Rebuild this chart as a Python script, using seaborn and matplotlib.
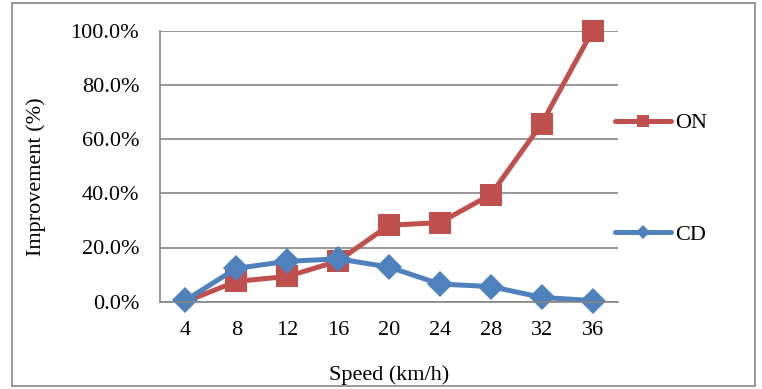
import pandas as pd
import seaborn as sns
import matplotlib.pyplot as plt
from matplotlib.patches import Rectangle
from matplotlib.ticker import PercentFormatter

# values
speeds = [4, 8, 12, 16, 20, 24, 28, 32, 36]
on_vals = [0.0, 7.5, 9.3, 15.0, 28.2, 29.2, 39.5, 65.7, 100.0]
cd_vals = [0.5, 12.3, 14.9, 15.8, 12.8, 6.5, 5.6, 1.6, 0.4]
series_names = ['ON', 'CD']

df = pd.DataFrame({
    'Speed': speeds * 2,
    'Improvement': on_vals + cd_vals,
    'Series': [series_names[0]] * len(speeds) + [series_names[1]] * len(speeds),
})

sns.set_style('white')
plt.rcParams['font.family'] = ['Liberation Serif', 'DejaVu Serif']
plt.rcParams['text.color'] = 'black'
plt.rcParams['axes.labelcolor'] = 'black'
fs = 16

fig = plt.figure(figsize=(7.62, 3.89), dpi=100)
ax = fig.add_axes([160 / 762, 1 - 301.7 / 389, (618 - 160) / 762, (301.7 - 30.7) / 389])

sns.lineplot(data=df, x='Speed', y='Improvement', hue='Series', style='Series',
             palette={'ON': '#C0504D', 'CD': '#4F81BD'},
             markers={'ON': 's', 'CD': 'D'}, dashes=False,
             linewidth=3.6, markeredgewidth=0, ax=ax, legend=False)
for line, ms in zip(ax.lines, [15.5, 13.5]):
    line.set_markersize(ms)
    line.set_clip_on(False)
# the first ON marker is hidden in the original
ax.lines[0].set_markevery(list(range(1, len(speeds))))

ax.set_xlim(2, 38)
ax.set_ylim(0, 100)
ax.set_yticks(range(0, 101, 20))
ax.yaxis.set_major_formatter(PercentFormatter(decimals=1))
ax.set_xticks(speeds)
ax.set_xticks(range(2, 39, 4), minor=True)
ax.tick_params(axis='x', which='major', length=0, pad=14, labelsize=fs, labelcolor='black')
ax.tick_params(axis='x', which='minor', length=5, color='#868686', width=1.2)
ax.tick_params(axis='y', length=5, color='#868686', width=1.2, pad=10, labelsize=fs, labelcolor='black')
ax.grid(axis='y', color='#868686', linewidth=1.2)
ax.set_axisbelow(True)
for side in ['top', 'right']:
    ax.spines[side].set_visible(False)
for side in ['left', 'bottom']:
    ax.spines[side].set_color('#868686')
    ax.spines[side].set_linewidth(1.2)

ax.set_xlabel('Speed (km/h)', fontsize=fs, labelpad=18)
ax.set_ylabel('Improvement (%)', fontsize=fs)
ax.yaxis.set_label_coords(-0.248, 0.46)

# legend to the right, entries spaced apart
handles = [plt.Line2D([], [], color='#C0504D', marker='s', markersize=9, linewidth=3.6, markeredgewidth=0),
           plt.Line2D([], [], color='#4F81BD', marker='D', markersize=7, linewidth=3.6, markeredgewidth=0)]
fig.legend(handles, series_names, loc='center left', bbox_to_anchor=(595 / 762, 1 - 179 / 389),
           frameon=False, fontsize=fs, labelspacing=4.1, handlelength=2.5, handletextpad=0.2)

# outer chart border
fig.patches.append(Rectangle((12 / 762, 3 / 389), 743 / 762, 383 / 389, transform=fig.transFigure,
                             fill=False, edgecolor='#868686', linewidth=1.2))

plt.savefig('out.png', dpi=100)
plt.close()
